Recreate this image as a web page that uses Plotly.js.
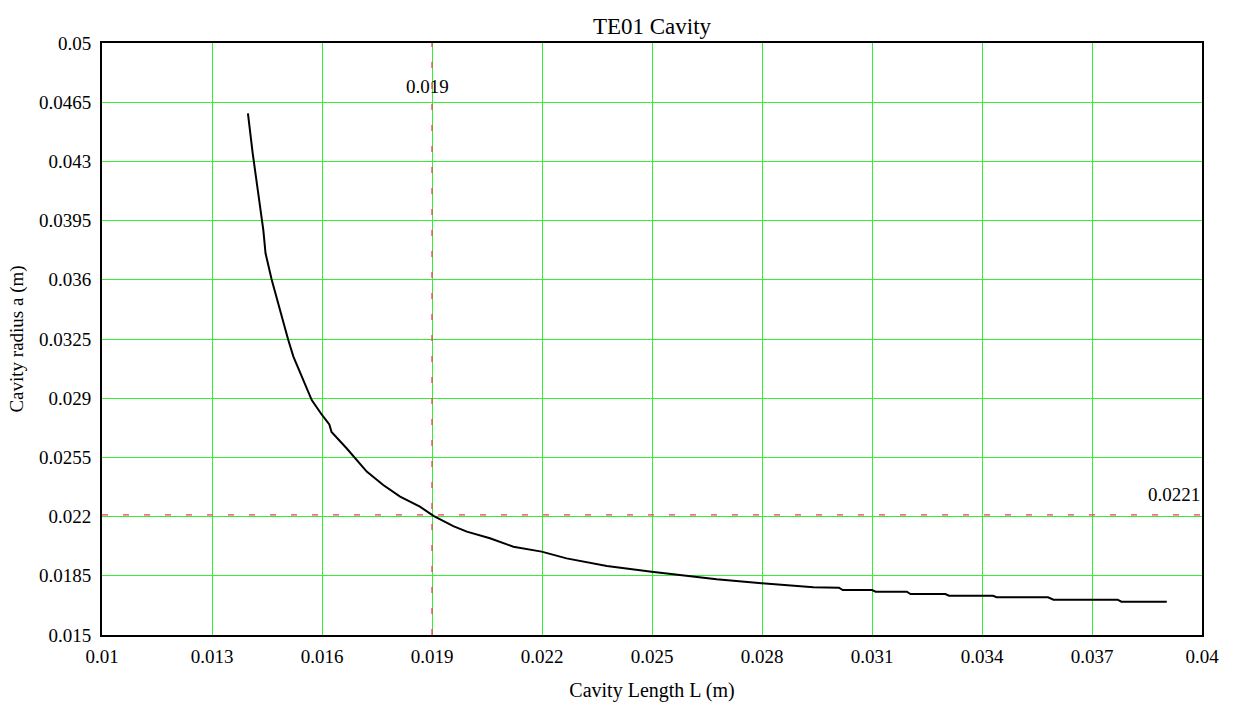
<!DOCTYPE html>
<html>
<head>
<meta charset="utf-8">
<script src="https://cdn.plot.ly/plotly-3.0.1.min.js"></script>
<style>html,body{margin:0;padding:0;background:#fff;}#chart{width:1242px;height:704px;}</style>
</head>
<body>
<div id="chart"></div>
<script>
// Cavity length L (m)
const cavityLength = [
  0.01398, 0.01411, 0.01440, 0.01446, 0.01463, 0.01490, 0.01508, 0.01522,
  0.01545, 0.01572, 0.01600, 0.01620, 0.01626, 0.01667, 0.01722, 0.01767,
  0.01813, 0.01867, 0.01904, 0.01958, 0.01995, 0.02058, 0.02122, 0.02199,
  0.02267, 0.02377, 0.02499, 0.02576, 0.02676, 0.02799, 0.02940, 0.03010,
  0.03020, 0.03100, 0.03110, 0.03195, 0.03205, 0.03300, 0.03310, 0.03430,
  0.03440, 0.03580, 0.03595, 0.03770, 0.03780, 0.03904
];
// Cavity radius a (m)
const cavityRadius = [
  0.04584, 0.04348, 0.03894, 0.03757, 0.03599, 0.03382, 0.03244, 0.03146,
  0.03030, 0.02889, 0.02801, 0.02745, 0.02700, 0.02604, 0.02466, 0.02387,
  0.02318, 0.02259, 0.02204, 0.02144, 0.02111, 0.02072, 0.02022, 0.01993,
  0.01953, 0.01908, 0.01874, 0.01855, 0.01829, 0.01806, 0.01782, 0.01780,
  0.01766, 0.01766, 0.01756, 0.01756, 0.01742, 0.01742, 0.01732, 0.01732,
  0.01723, 0.01723, 0.01709, 0.01709, 0.01697, 0.01697
];
// Marker values
const markerL = 0.019;
const markerA = 0.0221;

// Tick values and labels
const xTickVals = [0.01, 0.013, 0.016, 0.019, 0.022, 0.025, 0.028, 0.031, 0.034, 0.037, 0.04];
const xTickText = ["0.01", "0.013", "0.016", "0.019", "0.022", "0.025", "0.028", "0.031", "0.034", "0.037", "0.04"];
const yTickVals = [0.015, 0.0185, 0.022, 0.0255, 0.029, 0.0325, 0.036, 0.0395, 0.043, 0.0465, 0.05];
const yTickText = ["0.015", "0.0185", "0.022", "0.0255", "0.029", "0.0325", "0.036", "0.0395", "0.043", "0.0465", "0.05"];

const FONT = '"Liberation Serif", "Times New Roman", Times, serif';
const GRID = "#33ee33";
const RED = "#f04050";

const traces = [{
  x: cavityLength,
  y: cavityRadius,
  type: "scatter",
  mode: "lines",
  line: {color: "#000000", width: 2},
  hoverinfo: "x+y",
  showlegend: false
}];

const layout = {
  width: 1242,
  height: 704,
  margin: {l: 102, r: 40, t: 43, b: 69, pad: 0},
  paper_bgcolor: "#ffffff",
  plot_bgcolor: "#ffffff",
  font: {family: FONT, color: "#000000", size: 19},
  title: {
    text: "TE01 Cavity",
    font: {family: FONT, size: 23, color: "#000000"},
    x: 0.5, xref: "paper", xanchor: "center",
    y: 1 - 26 / 704, yref: "container", yanchor: "middle"
  },
  xaxis: {
    range: [0.01, 0.04],
    tickvals: xTickVals,
    ticktext: xTickText,
    ticks: "outside", ticklen: 3, tickcolor: "rgba(0,0,0,0)",
    tickfont: {family: FONT, size: 19, color: "#000000"},
    showgrid: true, gridcolor: GRID, gridwidth: 1,
    zeroline: false,
    showline: true, linecolor: "#000000", linewidth: 2, mirror: true,
    title: {text: "Cavity Length L (m)", font: {family: FONT, size: 20, color: "#000000"}, standoff: 17},
    automargin: false
  },
  yaxis: {
    range: [0.015, 0.05],
    tickvals: yTickVals,
    ticktext: yTickText,
    ticks: "outside", ticklen: 5, tickcolor: "rgba(0,0,0,0)",
    tickfont: {family: FONT, size: 19, color: "#000000"},
    showgrid: true, gridcolor: GRID, gridwidth: 1,
    zeroline: false,
    showline: true, linecolor: "#000000", linewidth: 2, mirror: true,
    title: {text: "Cavity radius a (m)", font: {family: FONT, size: 19, color: "#000000"}, standoff: 10},
    automargin: false
  },
  shapes: [
    {type: "line", xref: "x", yref: "paper", x0: markerL, x1: markerL, y0: 0, y1: 1,
     line: {color: RED, width: 1.3, dash: "6px,15px"}},
    {type: "line", xref: "paper", yref: "y", x0: 0, x1: 1, y0: markerA, y1: markerA,
     line: {color: RED, width: 1.3, dash: "6px,15px"}}
  ],
  annotations: [
    {x: markerL, xref: "x", y: 0.0474, yref: "y", text: String(markerL), showarrow: false,
     font: {family: FONT, size: 19, color: "#000000"}, xanchor: "center", yanchor: "middle", xshift: -5},
    {x: 1, xref: "paper", y: markerA, yref: "y", text: String(markerA), showarrow: false,
     font: {family: FONT, size: 19, color: "#000000"}, xanchor: "right", yanchor: "bottom", yshift: 8}
  ],
  showlegend: false
};

Plotly.newPlot("chart", traces, layout, {displayModeBar: false, staticPlot: true});
</script>
</body>
</html>
